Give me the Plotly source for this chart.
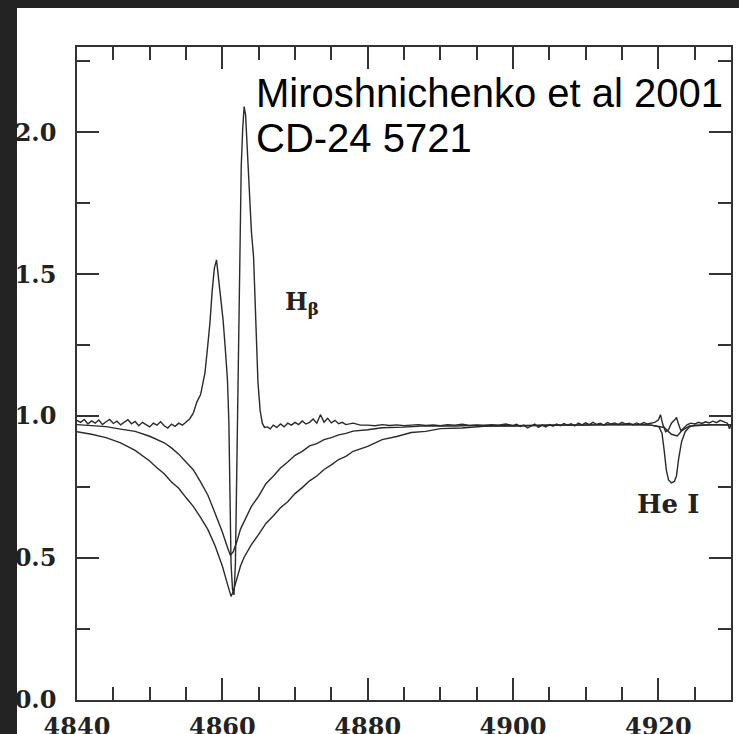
import plotly.graph_objects as go

# ---------------- data ----------------
obs_wl = [4840.0, 4840.5, 4841.0, 4841.5, 4842.0, 4842.5, 4843.0, 4843.5, 4844.0, 4844.5,
          4845.0, 4845.5, 4846.0, 4846.5, 4847.0, 4847.5, 4848.0, 4848.5, 4849.0, 4849.5,
          4850.0, 4850.5, 4851.0, 4851.5, 4852.0, 4852.5, 4853.0, 4853.5, 4854.0, 4854.5,
          4855.0, 4855.5, 4856.0, 4856.5, 4857.0, 4857.3, 4857.6, 4858.0, 4858.3, 4858.6,
          4858.9, 4859.2, 4859.5, 4859.8, 4860.1, 4860.4, 4860.7, 4860.9, 4861.05, 4861.2,
          4861.4, 4861.6, 4861.8, 4862.0, 4862.2, 4862.4, 4862.6, 4862.8, 4863.0, 4863.2,
          4863.4, 4863.7, 4864.0, 4864.3, 4864.6, 4864.9, 4865.2, 4865.5, 4865.8, 4866.2,
          4866.6, 4867.0, 4867.5, 4868.0, 4868.5, 4869.0, 4869.5, 4870.0, 4870.5, 4871.0,
          4871.5, 4872.0, 4872.5, 4873.0, 4873.5, 4874.0, 4874.5, 4875.0, 4875.5, 4876.0,
          4876.5, 4877.0, 4878.0, 4879.0, 4880.0, 4881.0, 4882.0, 4883.0, 4884.0, 4885.0,
          4886.0, 4887.0, 4888.0, 4889.0, 4890.0, 4891.0, 4892.0, 4893.0, 4894.0, 4895.0,
          4896.0, 4897.0, 4898.0, 4899.0, 4900.0, 4900.5, 4901.0, 4901.5, 4902.0, 4902.5,
          4903.0, 4903.5, 4904.0, 4904.5, 4905.0, 4905.5, 4906.0, 4906.5, 4907.0, 4907.5,
          4908.0, 4908.5, 4909.0, 4909.5, 4910.0, 4910.5, 4911.0, 4911.5, 4912.0, 4912.5,
          4913.0, 4913.5, 4914.0, 4914.5, 4915.0, 4915.5, 4916.0, 4916.5, 4917.0, 4917.5,
          4918.0, 4918.5, 4919.0, 4919.5, 4920.0, 4920.3, 4920.6, 4921.0, 4921.4, 4921.8,
          4922.2, 4922.5, 4922.8, 4923.1, 4923.5, 4924.0, 4924.5, 4925.0, 4925.5, 4926.0,
          4926.5, 4927.0, 4927.5, 4928.0, 4928.5, 4929.0, 4929.5, 4929.8, 4930.0]
obs_flux = [0.985, 0.978, 0.988, 0.972, 0.983, 0.975, 0.986, 0.970, 0.980, 0.988,
            0.974, 0.982, 0.969, 0.979, 0.987, 0.973, 0.981, 0.966, 0.978, 0.970,
            0.962, 0.975, 0.968, 0.980, 0.966, 0.958, 0.972, 0.964, 0.975, 0.968,
            0.980, 0.990, 1.010, 1.050, 1.075, 1.120, 1.150, 1.250, 1.330, 1.440,
            1.520, 1.550, 1.480, 1.420, 1.340, 1.240, 1.130, 0.980, 0.700, 0.480,
            0.390, 0.370, 0.480, 0.850, 1.300, 1.700, 1.880, 2.010, 2.090, 2.060,
            1.950, 1.820, 1.650, 1.560, 1.320, 1.120, 1.020, 0.975, 0.960, 0.962,
            0.955, 0.968, 0.960, 0.972, 0.962, 0.975, 0.968, 0.978, 0.970, 0.983,
            0.972, 0.978, 0.990, 0.975, 1.005, 0.978, 0.992, 0.976, 0.985, 0.973,
            0.978, 0.970, 0.975, 0.968, 0.968, 0.966, 0.970, 0.967, 0.969, 0.966,
            0.968, 0.970, 0.967, 0.969, 0.966, 0.970, 0.968, 0.971, 0.967, 0.969,
            0.966, 0.970, 0.968, 0.972, 0.967, 0.971, 0.963, 0.968, 0.958, 0.965,
            0.972, 0.960, 0.968, 0.962, 0.970, 0.964, 0.972, 0.966, 0.974, 0.968,
            0.973, 0.965, 0.975, 0.969, 0.976, 0.970, 0.978, 0.971, 0.975, 0.968,
            0.977, 0.972, 0.976, 0.970, 0.978, 0.972, 0.975, 0.969, 0.976, 0.971,
            0.977, 0.972, 0.975, 0.978, 0.986, 1.005, 0.972, 0.945, 0.952, 0.975,
            0.985, 0.995, 0.970, 0.948, 0.958, 0.970, 0.975, 0.972, 0.978, 0.974,
            0.980, 0.976, 0.982, 0.977, 0.985, 0.979, 0.975, 0.955, 0.970]

# broad, deep photospheric comparison profile
deep_wl = [4840, 4842, 4844, 4846, 4848, 4850, 4851, 4852, 4853, 4854,
           4855, 4856, 4857, 4858, 4859, 4860, 4860.6, 4861.0, 4861.2, 4861.5,
           4862.0, 4862.5, 4863, 4864, 4865, 4866, 4867, 4868, 4869, 4870,
           4871, 4872, 4873, 4874, 4875, 4876, 4877, 4878, 4880, 4882,
           4884, 4886, 4888, 4890, 4893, 4896, 4900, 4904, 4908, 4912,
           4916, 4919, 4920.8, 4921.8, 4922.6, 4923.3, 4924.3, 4926, 4928, 4930]
deep_flux = [0.945, 0.936, 0.924, 0.906, 0.879, 0.842, 0.818, 0.797, 0.768, 0.746,
             0.713, 0.682, 0.643, 0.601, 0.543, 0.472, 0.418, 0.376, 0.365, 0.382,
             0.428, 0.472, 0.503, 0.547, 0.583, 0.622, 0.648, 0.677, 0.698, 0.727,
             0.748, 0.772, 0.789, 0.812, 0.828, 0.847, 0.858, 0.876, 0.893, 0.917,
             0.928, 0.942, 0.946, 0.956, 0.958, 0.964, 0.965, 0.967, 0.968, 0.970,
             0.969, 0.968, 0.960, 0.936, 0.930, 0.950, 0.965, 0.968, 0.970, 0.969]

# narrower, shallower comparison profile (with strong He I)
shal_wl = [4840, 4842, 4844, 4846, 4848, 4850, 4852, 4853, 4854, 4855,
           4856, 4857, 4858, 4859, 4860, 4860.7, 4861.1, 4861.5, 4862, 4862.5,
           4863, 4864, 4865, 4866, 4867, 4868, 4869, 4870, 4871, 4872,
           4873, 4874, 4875, 4876, 4877, 4878, 4880, 4882, 4885, 4888,
           4892, 4896, 4900, 4905, 4910, 4915, 4918, 4919, 4920.1, 4920.5,
           4920.8, 4921.1, 4921.4, 4921.8, 4922.2, 4922.5, 4922.8, 4923.2, 4923.7, 4924.3,
           4925, 4927, 4930]
shal_flux = [0.970, 0.967, 0.963, 0.954, 0.946, 0.929, 0.906, 0.888, 0.866, 0.838,
             0.811, 0.768, 0.722, 0.658, 0.592, 0.538, 0.510, 0.522, 0.558, 0.602,
             0.628, 0.682, 0.718, 0.762, 0.788, 0.817, 0.838, 0.862, 0.876, 0.895,
             0.903, 0.917, 0.924, 0.934, 0.939, 0.947, 0.952, 0.959, 0.961, 0.966,
             0.965, 0.968, 0.966, 0.969, 0.968, 0.971, 0.970, 0.968, 0.962, 0.940,
             0.880, 0.810, 0.775, 0.765, 0.770, 0.790, 0.850, 0.910, 0.945, 0.962,
             0.968, 0.970, 0.968]

x_range = [4840, 4930]
y_range = [0, 2.3]
x_ticks = [4840, 4860, 4880, 4900, 4920]
y_ticks = [0.0, 0.5, 1.0, 1.5, 2.0]

# ---------------- figure ----------------
W, H = 739, 734
L, R, T, B = 77, 8, 47, 34
pw, ph = W - L - R, H - T - B

def px_x(px):
    return (px - L) / pw

def px_y(py):
    return (H - B - py) / ph

line_col = "#2a2a2a"
fig = go.Figure()
for xs, ys in [(deep_wl, deep_flux), (shal_wl, shal_flux), (obs_wl, obs_flux)]:
    fig.add_trace(go.Scatter(x=xs, y=ys, mode="lines",
                             line=dict(color=line_col, width=1.4),
                             showlegend=False, hoverinfo="skip"))

tickfont = dict(family="DejaVu Serif", size=24, color="#222", weight="bold")
axis_common = dict(showline=True, linecolor="#333", linewidth=1.6, mirror="allticks",
                   ticks="inside", tickcolor="#333", tickwidth=1.5, ticklen=22,
                   showgrid=False, zeroline=False, tickfont=tickfont, automargin=False)
fig.update_xaxes(range=x_range, tickvals=x_ticks, ticklabelstandoff=4,
                 minor=dict(dtick=5, tick0=4840, ticks="inside", ticklen=13,
                            tickwidth=1.5, tickcolor="#333", showgrid=False),
                 **axis_common)
fig.update_yaxes(range=y_range, tickvals=y_ticks, tickformat=".1f", ticklabelstandoff=14,
                 minor=dict(dtick=0.25, tick0=0, ticks="inside", ticklen=13,
                            tickwidth=1.5, tickcolor="#333", showgrid=False),
                 **axis_common)

ann_font = dict(family="Liberation Sans, Arial, sans-serif", size=40, color="black")
fig.add_annotation(x=4864.4, y=2.137, xref="x", yref="y", text="Miroshnichenko et al 2001",
                   showarrow=False, xanchor="left", yanchor="middle", font=ann_font)
fig.add_annotation(x=4864.4, y=1.978, xref="x", yref="y", text="CD-24 5721",
                   showarrow=False, xanchor="left", yanchor="middle", font=ann_font)
fig.add_annotation(x=4868.4, y=1.40, xref="x", yref="y", text="H<sub>β</sub>",
                   showarrow=False, xanchor="left", yanchor="middle",
                   font=dict(family="DejaVu Serif", size=24, color="#222", weight="bold"))
fig.add_annotation(x=4916.8, y=0.69, xref="x", yref="y", text="He I",
                   showarrow=False, xanchor="left", yanchor="middle",
                   font=dict(family="DejaVu Serif", size=26, color="#222", weight="bold"))

dark = "#232323"
fig.add_shape(type="rect", xref="paper", yref="paper", layer="above",
              x0=px_x(-2), x1=px_x(17), y0=px_y(H + 2), y1=px_y(-2),
              fillcolor=dark, line=dict(width=0))
fig.add_shape(type="rect", xref="paper", yref="paper", layer="above",
              x0=px_x(-2), x1=px_x(W + 2), y0=px_y(8), y1=px_y(-2),
              fillcolor=dark, line=dict(width=0))

fig.update_layout(width=W, height=H, margin=dict(l=L, r=R, t=T, b=B, pad=0),
                  paper_bgcolor="white", plot_bgcolor="white")
fig.write_html("out.html")
